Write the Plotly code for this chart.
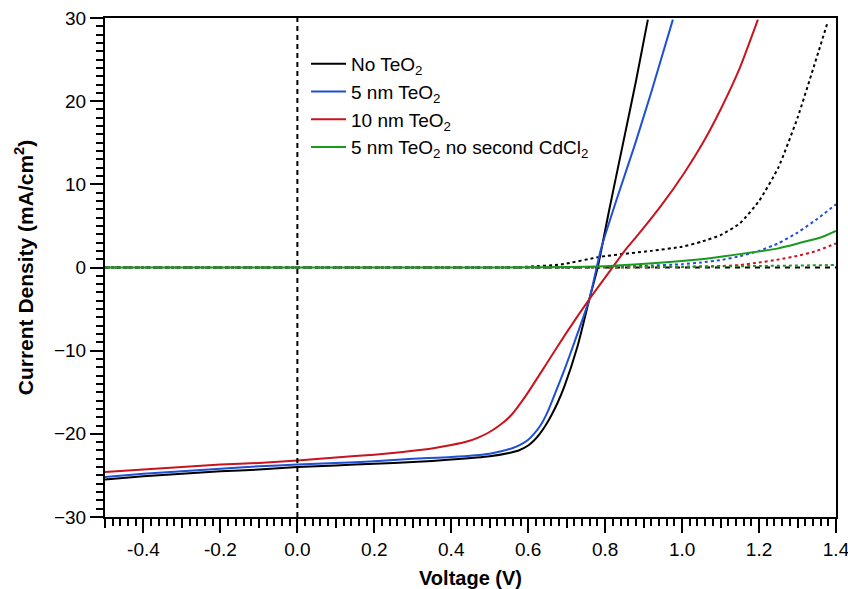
import plotly.graph_objects as go

# Illuminated J-V curves (solid) -----------------------------------------
v_none = [-0.5, -0.4, -0.3, -0.2, -0.1, 0.0, 0.1, 0.2, 0.3, 0.4, 0.5, 0.55, 0.575,
          0.6, 0.615, 0.63, 0.645, 0.66, 0.677, 0.694, 0.728, 0.759, 0.781, 0.81,
          0.845, 0.88, 0.911]
j_none = [-25.5, -25.1, -24.8, -24.5, -24.3, -24.0, -23.8, -23.6, -23.4, -23.1, -22.7,
          -22.3, -22.0, -21.4, -20.8, -20.0, -19.0, -17.8, -16.2, -14.3, -9.5, -3.8,
          0.1, 6.8, 14.6, 22.4, 29.8]

v_5nm = [-0.5, -0.4, -0.3, -0.2, -0.1, 0.0, 0.1, 0.2, 0.3, 0.4, 0.5, 0.53, 0.56, 0.58,
         0.6, 0.615, 0.633, 0.652, 0.672, 0.695, 0.72, 0.759, 0.789, 0.83, 0.876,
         0.92, 0.976]
j_5nm = [-25.2, -24.8, -24.5, -24.2, -23.9, -23.7, -23.5, -23.3, -23.0, -22.8, -22.4,
         -22.1, -21.7, -21.3, -20.7, -20.0, -18.9, -17.2, -14.9, -12.2, -9.0, -3.8,
         2.2, 8.2, 14.6, 21.1, 29.8]

v_10nm = [-0.5, -0.4, -0.3, -0.2, -0.1, 0.0, 0.1, 0.2, 0.268, 0.35, 0.4, 0.443, 0.47,
          0.495, 0.525, 0.555, 0.594, 0.65, 0.7, 0.759, 0.819, 0.854, 0.876, 0.945,
          1.006, 1.053, 1.1, 1.15, 1.197]
j_10nm = [-24.6, -24.3, -24.0, -23.7, -23.5, -23.2, -22.85, -22.5, -22.2, -21.75,
          -21.35, -20.9, -20.45, -19.9, -19.0, -17.8, -15.4, -11.4, -7.8, -3.8, 0.0,
          2.2, 3.4, 7.4, 11.4, 14.9, 19.0, 24.0, 29.8]

v_nocd = [-0.5, 0.0, 0.5, 0.6, 0.7, 0.8, 0.876, 0.95, 1.049, 1.1, 1.18, 1.25, 1.31,
          1.36, 1.4]
j_nocd = [0.0, 0.0, 0.0, 0.02, 0.06, 0.15, 0.35, 0.6, 1.0, 1.3, 1.8, 2.3, 3.0, 3.6, 4.4]

# Dark J-V curves (dotted) -----------------------------------------------
v_none_dark = [-0.5, 0.0, 0.5, 0.55, 0.6, 0.685, 0.789, 0.919, 1.0, 1.05, 1.1, 1.15,
               1.2, 1.25, 1.3, 1.34, 1.379]
j_none_dark = [0.0, 0.0, 0.0, 0.03, 0.1, 0.36, 1.3, 2.0, 2.5, 3.1, 3.9, 5.3, 8.0,
               12.0, 18.0, 23.8, 29.6]

v_5nm_dark = [-0.5, 0.0, 0.7, 0.8, 0.9, 1.0, 1.05, 1.1, 1.15, 1.2, 1.25, 1.3,
              1.35, 1.4]
j_5nm_dark = [0.0, 0.0, 0.0, 0.05, 0.2, 0.4, 0.6, 0.9, 1.35, 2.0, 2.9, 4.2, 5.8, 7.6]

v_10nm_dark = [-0.5, 0.0, 0.8, 0.9, 1.0, 1.1, 1.15, 1.2, 1.25, 1.3, 1.35, 1.4]
j_10nm_dark = [0.0, 0.0, 0.0, 0.03, 0.07, 0.17, 0.3, 0.6, 0.95, 1.4, 2.0, 2.9]

v_nocd_dark = [-0.5, 0.0, 0.8, 0.9, 1.0, 1.2, 1.4]
j_nocd_dark = [0.0, 0.0, 0.02, 0.05, 0.1, 0.18, 0.3]

# Axis ticks ---------------------------------------------------------------
x_major = [-0.4, -0.2, 0.0, 0.2, 0.4, 0.6, 0.8, 1.0, 1.2, 1.4]
x_major_text = ["-0.4", "-0.2", "0.0", "0.2", "0.4", "0.6", "0.8", "1.0", "1.2", "1.4"]
x_mid = [-0.5, -0.3, -0.1, 0.1, 0.3, 0.5, 0.7, 0.9, 1.1, 1.3]
y_major = [-30, -20, -10, 0, 10, 20, 30]

BLACK = "#000000"
BLUE = "#1f4fd2"
RED = "#c8141e"
GREEN = "#19991e"
FONT = "Liberation Sans, Arial, sans-serif"

fig = go.Figure()

dark_sets = [
    (v_none_dark, j_none_dark, BLACK),
    (v_5nm_dark, j_5nm_dark, BLUE),
    (v_10nm_dark, j_10nm_dark, RED),
    (v_nocd_dark, j_nocd_dark, GREEN),
]
for vx, jy, col in dark_sets:
    fig.add_trace(go.Scatter(x=vx, y=jy, mode="lines", showlegend=False,
                             line=dict(color=col, width=2, dash="dot", shape="spline",
                                       smoothing=0.5),
                             hoverinfo="skip"))

light_sets = [
    (v_none, j_none, BLACK, "No TeO<sub>2</sub>"),
    (v_5nm, j_5nm, BLUE, "5 nm TeO<sub>2</sub>"),
    (v_10nm, j_10nm, RED, "10 nm TeO<sub>2</sub>"),
    (v_nocd, j_nocd, GREEN, "5 nm TeO<sub>2</sub> no second CdCl<sub>2</sub>"),
]
for vx, jy, col, name in light_sets:
    fig.add_trace(go.Scatter(x=vx, y=jy, mode="lines", name=name,
                             line=dict(color=col, width=2, shape="spline",
                                       smoothing=0.5)))

# invisible trace that carries the 0.1 V intermediate ticks
fig.add_trace(go.Scatter(x=[x_mid[0]], y=[0], xaxis="x2", mode="markers",
                         marker=dict(opacity=0), showlegend=False, hoverinfo="skip"))

fig.add_hline(y=0, line=dict(color=BLACK, width=2, dash="5px,5px"), layer="below")
fig.add_vline(x=0, line=dict(color=BLACK, width=2, dash="5px,4px"))

fig.update_layout(
    width=848, height=589,
    margin=dict(l=105, r=12, t=18, b=72),
    paper_bgcolor="white", plot_bgcolor="white",
    font=dict(family=FONT, size=19, color="black"),
    showlegend=True,
    legend=dict(x=0.275, y=0.946, xanchor="left", yanchor="top",
                bgcolor="rgba(0,0,0,0)", borderwidth=0, itemwidth=35,
                font=dict(family=FONT, size=19), tracegroupgap=0),
    xaxis=dict(range=[-0.5, 1.4], tickmode="array", tickvals=x_major,
               ticktext=x_major_text, ticks="outside", ticklen=14, tickwidth=2,
               tickcolor="black", showline=True, linewidth=2, linecolor="black",
               mirror=True, showgrid=False, zeroline=False, automargin=False,
               ticklabeloverflow="allow", tickfont=dict(size=19),
               minor=dict(dtick=0.02, tick0=0, ticks="outside", ticklen=7,
                          tickwidth=1.5, tickcolor="black", showgrid=False),
               title=dict(text="<b>Voltage (V)</b>", font=dict(size=20), standoff=18)),
    xaxis2=dict(range=[-0.5, 1.4], overlaying="x", anchor="y", side="bottom",
                tickmode="array", tickvals=x_mid, ticktext=[""] * len(x_mid),
                ticks="outside", ticklen=10, tickwidth=1.5, tickcolor="black",
                showline=False, showgrid=False, zeroline=False, automargin=False),
    yaxis=dict(range=[-30, 30], tickmode="array", tickvals=y_major,
               ticks="outside", ticklen=13, tickwidth=2, tickcolor="black",
               showline=True, linewidth=2, linecolor="black", mirror=True,
               showgrid=False, zeroline=False, automargin=False,
               tickfont=dict(size=19),
               minor=dict(dtick=1, tick0=0, ticks="outside", ticklen=7,
                          tickwidth=1.5, tickcolor="black", showgrid=False),
               title=dict(text="<b>Current Density (mA/cm<sup>2</sup>)</b>",
                          font=dict(size=21), standoff=15)),
)

fig.write_html("out.html")
